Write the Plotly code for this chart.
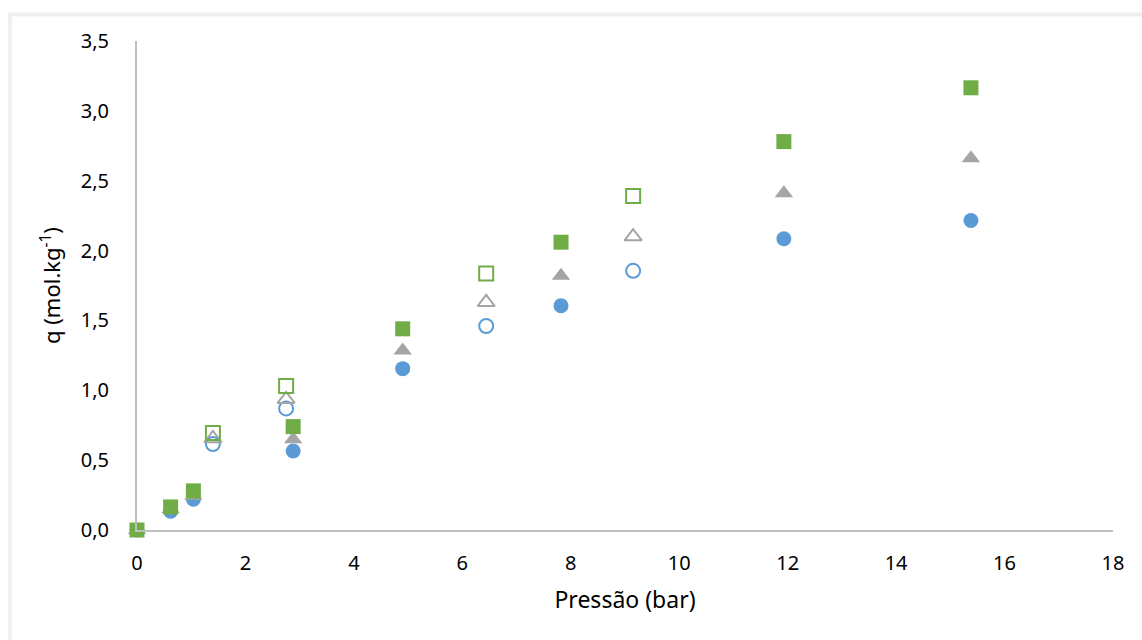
import plotly.graph_objects as go

# Adsorption isotherm data: pressure (bar) vs uptake q (mol/kg)
p_filled = [0, 0.62, 1.04, 2.88, 4.9, 7.82, 11.93, 15.38]
q_sq_filled = [0.0, 0.165, 0.28, 0.74, 1.44, 2.06, 2.78, 3.165]
q_tri_filled = [0.0, 0.15, 0.245, 0.65, 1.285, 1.82, 2.41, 2.66]
q_cir_filled = [0.0, 0.135, 0.22, 0.565, 1.155, 1.605, 2.085, 2.215]

p_open = [1.4, 2.75, 6.44, 9.15]
q_sq_open = [0.695, 1.03, 1.835, 2.39]
q_tri_open = [0.655, 0.935, 1.63, 2.10]
q_cir_open = [0.615, 0.87, 1.46, 1.855]

GREEN = "#70ad47"
GRAY = "#a5a5a5"
BLUE = "#5b9bd5"

fig = go.Figure()

def add(x, y, symbol, color, size, filled):
    if filled:
        marker = dict(symbol=symbol, size=size, color=color, line=dict(width=0))
    else:
        marker = dict(symbol=symbol + "-open", size=size, color=color, line=dict(color=color, width=2))
    fig.add_trace(go.Scatter(x=x, y=y, mode="markers", marker=marker,
                             showlegend=False, cliponaxis=False))

add(p_filled, q_cir_filled, "circle", BLUE, 15, True)
add(p_filled, q_tri_filled, "triangle-up", GRAY, 16, True)
add(p_filled, q_sq_filled, "square", GREEN, 15, True)
add(p_open, q_cir_open, "circle", BLUE, 14, False)
add(p_open, q_tri_open, "triangle-up", GRAY, 15, False)
add(p_open, q_sq_open, "square", GREEN, 14, False)

font = dict(family="Noto Sans, Liberation Sans, sans-serif", size=20, color="#000000")

fig.update_layout(
    width=1142, height=640,
    margin=dict(l=137, r=29, t=41, b=110),
    paper_bgcolor="white", plot_bgcolor="white",
    separators=", ",
    font=font,
    xaxis=dict(range=[0, 18], tickvals=list(range(0, 19, 2)), showgrid=False, zeroline=False,
               showline=True, linecolor="#bfbfbf", linewidth=2, ticks="", ticklabelstandoff=14,
               title=dict(text="Pressão (bar)", font=dict(size=23), standoff=17)),
    yaxis=dict(range=[0, 3.5], tickvals=[0, 0.5, 1, 1.5, 2, 2.5, 3, 3.5], tickformat=".1f",
               showgrid=False, zeroline=False, showline=True, linecolor="#bfbfbf", linewidth=2,
               ticks="", ticklabelstandoff=22,
               title=dict(text="q (mol.kg<sup>-1</sup>)", font=dict(size=22), standoff=14)),
    shapes=[dict(type="rect", xref="paper", yref="paper", x0=-0.130, x1=1.05, y0=-0.3, y1=1.054,
                 line=dict(color="#f0f0f0", width=4), fillcolor="rgba(0,0,0,0)", layer="below")],
)

fig.write_html("out.html")
